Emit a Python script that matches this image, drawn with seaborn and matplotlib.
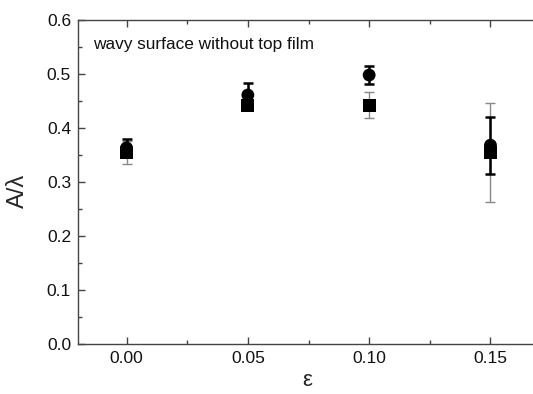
import matplotlib
matplotlib.use("Agg")
import matplotlib.pyplot as plt
from matplotlib.ticker import MultipleLocator
import seaborn as sns
import pandas as pd

# strain values and measured amplitude ratio
eps = [0.00, 0.05, 0.10, 0.15]
circle_vals = [0.363, 0.461, 0.498, 0.368]
circle_err = [0.017, 0.023, 0.016, 0.053]
square_vals = [0.355, 0.442, 0.442, 0.354]
square_err = [0.021, 0.006, 0.024, 0.092]

sns.set_style("white")
plt.rcParams["font.family"] = ["Liberation Sans", "DejaVu Sans"]

fig = plt.figure(figsize=(5.33, 3.94), dpi=100)
ax = fig.add_axes([78 / 533, 1 - 343.7 / 394, (539 - 78) / 533, (343.7 - 20) / 394])

df = pd.DataFrame({
    "eps": eps * 2,
    "val": circle_vals + square_vals,
    "series": ["circle"] * 4 + ["square"] * 4,
})

ax.errorbar(eps, square_vals, yerr=square_err, fmt="none", ecolor="#888888",
            elinewidth=1.0, capsize=3.5, capthick=1.0, zorder=2)
ax.errorbar(eps, circle_vals, yerr=circle_err, fmt="none", ecolor="black",
            elinewidth=1.8, capsize=3.5, capthick=1.8, zorder=3)
sns.scatterplot(data=df, x="eps", y="val", style="series", markers={"circle": "o", "square": "s"},
                color="black", s=85, edgecolor="black", linewidth=0, legend=False, ax=ax, zorder=4)

ax.set_xlim(-0.02, 0.17)
ax.set_ylim(0.0, 0.6)
ax.xaxis.set_major_locator(MultipleLocator(0.05))
ax.xaxis.set_minor_locator(MultipleLocator(0.025))
ax.yaxis.set_major_locator(MultipleLocator(0.1))
ax.yaxis.set_minor_locator(MultipleLocator(0.05))
ax.xaxis.set_major_formatter(plt.FormatStrFormatter("%.2f"))
ax.yaxis.set_major_formatter(plt.FormatStrFormatter("%.1f"))

ax.tick_params(which="both", direction="in", bottom=True, left=True, top=True, right=False,
               colors="#444444", labelcolor="#111111", labelsize=12.5)
ax.tick_params(which="major", length=5, width=1, pad=5)
ax.tick_params(which="minor", length=3, width=1)
for side in ["left", "bottom", "top", "right"]:
    ax.spines[side].set_color("#444444")
    ax.spines[side].set_linewidth(1.0)

ax.set_xlabel("ε", fontsize=16)
ax.set_ylabel("A/λ", fontsize=17)
ax.xaxis.set_label_coords((307 - 78) / (539 - 78), -(381 - 343.7) / (343.7 - 20))
ax.yaxis.set_label_coords(-(78 - 18) / (539 - 78), (343.7 - 191) / (343.7 - 20))
ax.xaxis.label.set_va("center")
ax.yaxis.label.set_va("center")
ax.text((93 - 78) / (539 - 78), (343.7 - 44) / (343.7 - 20), "wavy surface without top film",
        transform=ax.transAxes, fontsize=12.4, va="center", ha="left", color="#111111")

plt.savefig("out.png", dpi=100)
